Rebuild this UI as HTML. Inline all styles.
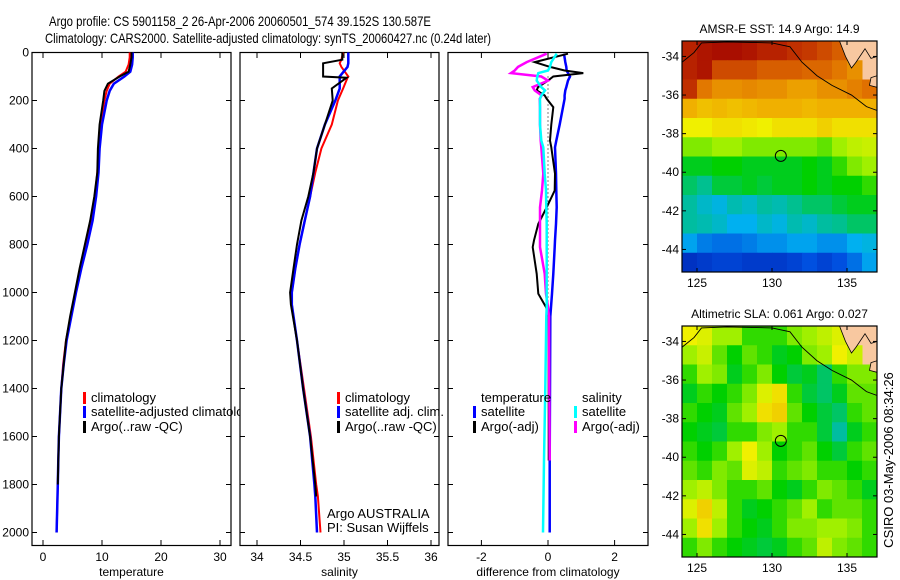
<!DOCTYPE html>
<html><head><meta charset="utf-8"><style>
html,body{margin:0;padding:0;background:#fff;}
svg{display:block;font-family:"Liberation Sans",sans-serif;}
</style></head><body>
<svg id="fig" width="900" height="580" viewBox="0 0 900 580" xmlns="http://www.w3.org/2000/svg">
<defs>
<clipPath id="c1"><rect x="32" y="52" width="208" height="494"/></clipPath>
<clipPath id="c2"><rect x="240" y="52" width="208" height="494"/></clipPath>
<clipPath id="c3"><rect x="448" y="52" width="200" height="494"/></clipPath>
<clipPath id="cm1"><rect x="682" y="41" width="195" height="231"/></clipPath>
<clipPath id="cm2"><rect x="682" y="326" width="195" height="231"/></clipPath>
</defs>
<text x="240" y="26" font-size="14" text-anchor="middle" textLength="382" lengthAdjust="spacingAndGlyphs">Argo profile: CS 5901158_2 26-Apr-2006 20060501_574 39.152S 130.587E</text>
<text x="268" y="43" font-size="14" text-anchor="middle" textLength="446" lengthAdjust="spacingAndGlyphs">Climatology: CARS2000. Satellite-adjusted climatology: synTS_20060427.nc (0.24d later)</text>
<text x="893" y="460" font-size="13" text-anchor="middle" transform="rotate(-90 893 460)">CSIRO 03-May-2006 08:34:26</text>
</svg>
<script>
// ---------- data ----------
const depths = [0,20,50,80,100,130,160,200,300,400,500,600,700,800,900,1000,1100,1200,1300,1400,1500,1600,1700,1800,1900,2000];
const tempArgo = [15.0,15.0,14.8,14.5,13.0,11.0,10.4,10.2,9.6,9.3,9.2,8.7,8.0,7.1,6.2,5.4,4.6,3.9,3.5,3.1,2.9,2.7,2.6,2.5,null,null];
const tempClim = [14.7,14.7,14.5,14.0,12.8,11.3,10.8,10.4,9.8,9.4,9.2,8.8,8.2,7.3,6.3,5.5,4.7,3.9,3.4,3.1,2.9,2.7,2.6,2.5,2.4,2.3];
const tempSat = [15.2,15.2,15.1,14.8,13.8,12.0,11.3,10.8,10.0,9.6,9.4,9.0,8.4,7.5,6.5,5.6,4.8,4.0,3.5,3.1,2.9,2.7,2.6,2.5,2.4,2.3];
const salDepths = [0,30,45,60,100,105,150,200,300,400,500,600,700,800,900,1000,1050,1200,1400,1600,1800,1850,2000];
const salArgo = [34.98,34.98,34.76,34.76,34.76,35.03,34.86,34.87,34.78,34.69,34.65,34.59,34.51,34.46,34.42,34.38,34.39,34.46,34.53,34.61,34.67,34.68,null];
const salClim = [34.99,34.97,34.95,34.97,35.05,35.04,34.99,34.93,34.86,34.74,34.67,34.61,34.55,34.49,34.44,34.40,34.40,34.46,34.54,34.62,34.68,34.70,34.73];
const salSat = [35.05,35.05,35.05,35.04,34.95,34.95,34.95,34.90,34.78,34.69,34.65,34.61,34.55,34.49,34.44,34.40,34.40,34.46,34.53,34.61,34.66,34.67,34.69];
const diffDepths = [5,40,60,75,86,100,117,144,158,179,193,228,300,367,395,505,575,645,714,783,811,922,1005,1061,1100,1400,1700,2000];
const dTempSat = [0.48,0.52,0.55,0.56,0.6,0.66,0.6,0.55,0.52,0.5,0.5,0.45,0.35,0.25,0.21,0.24,0.25,0.26,0.24,0.21,0.2,0.16,0.12,0.09,0.07,0.06,0.05,0.05];
const dTempArgo = [0.6,-0.4,0.06,0.5,1.06,0.16,0.0,-0.3,-0.34,-0.1,-0.04,0.16,0.1,0.06,0.1,0.21,0.2,-0.04,-0.29,-0.42,-0.46,-0.34,-0.29,-0.06,0.02,0.02,0.02,null];
const dSalSat = [0.26,0.1,0.06,0.0,-0.29,-0.32,-0.34,-0.2,-0.09,-0.2,-0.24,-0.24,-0.24,-0.2,-0.14,-0.1,-0.06,-0.05,-0.04,-0.04,-0.04,-0.04,-0.04,-0.04,-0.05,-0.08,-0.12,-0.15];
const dSalArgo = [-0.04,-0.64,-0.9,-1.0,-1.11,-0.2,0.0,-0.46,-0.4,-0.19,-0.25,-0.24,-0.24,-0.22,-0.2,-0.14,-0.18,-0.24,-0.24,-0.24,-0.24,-0.1,-0.06,0.0,0.03,0.04,0.05,null];
const depthTicks = [0,200,400,600,800,1000,1200,1400,1600,1800,2000];
const tempTicks = [0,10,20,30];
const salTicks = [34,34.5,35,35.5,36];
const diffTicks = [-2,0,2];
const lonTicks = [125,130,135];
const latTicks = [-34,-36,-38,-40,-42,-44];
const sstGrid = [
[.95,.97,.98,.98,.97,.95,.95,.93,.92,.90,.88,null,null],
[.95,.97,.90,.90,.90,.88,.88,.88,.87,.87,.85,.82,null],
[.93,.85,.82,.82,.83,.82,.82,.80,.80,.82,.82,.84,.86],
[.78,.76,.77,.76,.77,.78,.78,.78,.77,.78,.78,.78,.78],
[.70,.70,.72,.72,.71,.70,.72,.72,.72,.74,.72,.72,.72],
[.60,.60,.62,.62,.60,.60,.60,.60,.60,.58,.62,.65,.66],
[.50,.50,.52,.52,.50,.50,.50,.50,.52,.50,.55,.60,.62],
[.45,.42,.48,.48,.50,.48,.50,.50,.52,.50,.52,.52,.55],
[.40,.35,.32,.38,.35,.40,.38,.42,.45,.45,.48,.50,.50],
[.40,.38,.35,.30,.30,.35,.32,.38,.35,.40,.42,.45,.45],
[.28,.22,.20,.20,.22,.25,.25,.28,.28,.25,.25,.30,.32],
[.08,.10,.12,.12,.10,.10,.10,.12,.15,.12,.15,.20,.28]];
const slaGrid = [
[.70,.68,.62,.62,.55,.55,.55,.60,.62,.65,.68,null,null],
[.62,.66,.58,.52,.58,.55,.50,.52,.60,.62,.70,.66,null],
[.55,.62,.60,.50,.55,.60,.52,.48,.50,.45,.55,.60,.60],
[.50,.55,.52,.55,.60,.68,.72,.55,.48,.45,.50,.58,.58],
[.55,.52,.50,.58,.62,.72,.74,.58,.52,.48,.45,.55,.58],
[.52,.50,.48,.55,.55,.60,.62,.55,.55,.48,.40,.50,.55],
[.55,.52,.55,.62,.70,.62,.52,.55,.58,.52,.48,.55,.58],
[.58,.55,.60,.58,.68,.65,.55,.58,.60,.55,.55,.52,.55],
[.62,.65,.60,.55,.55,.58,.52,.50,.55,.60,.58,.55,.50],
[.68,.74,.65,.55,.50,.52,.55,.58,.62,.55,.58,.58,.55],
[.62,.72,.62,.55,.52,.50,.55,.60,.60,.62,.62,.60,.55],
[.55,.60,.55,.52,.50,.48,.50,.55,.58,.65,.60,.58,.55]];
const argoLon = 130.587, argoLat = -39.152;

// ---------- helpers ----------
const NS='http://www.w3.org/2000/svg';
const svg=document.getElementById('fig');
function mk(tag,attrs,parent){const e=document.createElementNS(NS,tag);for(const k in attrs)e.setAttribute(k,attrs[k]);(parent||svg).appendChild(e);return e;}
const yD = d => 52.5 + d*0.24;
const xT = v => 43 + v*5.9;
const xS = v => 257 + (v-34)*87;
const xDf = v => 548 + v*33.3;

function series(xs, ys, xf, color, w, name, clip, dash){
  let pts=[];
  for(let i=0;i<xs.length;i++){ if(xs[i]===null) continue; pts.push(xf(xs[i]).toFixed(1)+','+yD(ys[i]).toFixed(1)); }
  const p=mk('polyline',{points:pts.join(' '),fill:'none',stroke:color,'stroke-width':w,'clip-path':'url(#'+clip+')'});
  if(dash) p.setAttribute('stroke-dasharray',dash);
  
  
}
function panel(x0,x1,xticks,xf,xlabel,name,fmt,showDepth){
  const g=mk('g',{});
  
  
  mk('rect',{x:x0,y:52.5,width:x1-x0,height:493,fill:'none',stroke:'#000','stroke-width':1.2},g);
  xticks.forEach(t=>{const x=xf(t);
    mk('line',{x1:x,x2:x,y1:545.5,y2:540,stroke:'#000'},g);
    mk('line',{x1:x,x2:x,y1:52.5,y2:58,stroke:'#000'},g);
    const tx=mk('text',{x:x,y:561,'font-size':12,'text-anchor':'middle'},g);tx.textContent=fmt(t);
    
    
  });
  depthTicks.forEach(d=>{const y=yD(d);
    mk('line',{x1:x0,x2:x0+5,y1:y,y2:y,stroke:'#000'},g);
    mk('line',{x1:x1,x2:x1-5,y1:y,y2:y,stroke:'#000'},g);
    if(showDepth){const tx=mk('text',{x:x0-3,y:y+4,'font-size':12,'text-anchor':'end'},g);tx.textContent=d;
      
      }
  });
  const lb=mk('text',{x:(x0+x1)/2,y:576,'font-size':12,'text-anchor':'middle'},g);lb.textContent=xlabel;
  
  
}
function legendItem(x,y,color,text,clip){
  if(color) mk('rect',{x:x,y:y-10,width:3,height:12,fill:color});
  const t=mk('text',{x:x+8,y:y,'font-size':13});t.textContent=text;
  if(clip) t.setAttribute('clip-path','url(#'+clip+')');
  
  
}

// ---------- panels ----------
panel(32,231,tempTicks,xT,'temperature','temperature-panel',t=>t,true);
panel(240,439,salTicks,xS,'salinity','salinity-panel',t=>t,false);
panel(448,648,diffTicks,xDf,'difference from climatology','difference-panel',t=>t,false);

series(tempClim,depths,xT,'#f00',2,'temp-climatology-line','c1');
series(tempSat,depths,xT,'#00f',2.5,'temp-satellite-line','c1');
series(tempArgo,depths,xT,'#000',2,'temp-argo-line','c1');
series(salClim,salDepths,xS,'#f00',2,'sal-climatology-line','c2');
series(salSat,salDepths,xS,'#00f',2.5,'sal-satellite-line','c2');
series(salArgo,salDepths,xS,'#000',2,'sal-argo-line','c2');
// zero dotted line
const zl=mk('line',{x1:xDf(0),x2:xDf(0),y1:yD(100),y2:yD(1050),stroke:'#000','stroke-dasharray':'1,3'});


series(dTempSat,diffDepths,xDf,'#00f',2.5,'diff-temp-satellite-line','c3');
series(dTempArgo,diffDepths,xDf,'#000',2,'diff-temp-argo-line','c3');
series(dSalArgo,diffDepths,xDf,'#f0f',2.5,'diff-sal-argo-line','c3');
series(dSalSat,diffDepths,xDf,'#0ff',2.5,'diff-sal-satellite-line','c3');

legendItem(83,402,'#f00','climatology');
legendItem(83,416,'#00f','satellite-adjusted climatology','c1');
legendItem(83,431,'#000','Argo(..raw -QC)');
legendItem(337,402,'#f00','climatology');
legendItem(337,416,'#00f','satellite adj. clim.');
legendItem(337,431,'#000','Argo(..raw -QC)');
legendItem(319,518,null,'Argo AUSTRALIA');
legendItem(319,532,null,'PI: Susan Wijffels');
legendItem(473,402,null,'temperature');
legendItem(473,416,'#00f','satellite');
legendItem(473,431,'#000','Argo(-adj)');
legendItem(574,402,null,'salinity');
legendItem(574,416,'#0ff','satellite');
legendItem(574,431,'#f0f','Argo(-adj)');

// ---------- maps ----------
const stops=[[0,[0,16,160]],[0.15,[0,80,224]],[0.3,[0,176,240]],[0.42,[0,192,144]],[0.52,[0,208,0]],[0.62,[160,240,0]],[0.7,[240,240,0]],[0.78,[240,176,0]],[0.86,[224,112,0]],[0.93,[192,48,0]],[1,[160,0,0]]];
function cmap(v){for(let i=1;i<stops.length;i++){if(v<=stops[i][0]){const a=stops[i-1],b=stops[i],t=(v-a[0])/(b[0]-a[0]);const c=a[1].map((q,k)=>Math.round(q+(b[1][k]-q)*t));return 'rgb('+c+')';}}return 'rgb(160,0,0)';}
function map(grid,top,title,name,clip){
  const g=mk('g',{});
  
  
  const L=682,R=877,B=top+231;
  const xL=lon=>L+(lon-124)*15, yL=lat=>top+(-33.2-lat)*19.3;
  const nr=grid.length,nc=grid[0].length,cw=(R-L)/nc,ch=(B-top)/nr;
  mk('rect',{x:L,y:top,width:R-L,height:B-top,fill:'#f8c8a0'},g);
  grid.forEach((row,r)=>row.forEach((v,c)=>{ if(v===null) return;
    const cell=mk('rect',{x:L+c*cw,y:top+r*ch,width:cw+0.5,height:ch+0.5,fill:cmap(v)},g);
    
    
  }));
  // land
  mk('polygon',{points:[[134.5,-33.2],[134.9,-34.0],[135.3,-34.6],[135.6,-34.3],[136.2,-33.6],[136.6,-34.1],[137,-34.0],[137,-33.2]].map(p=>xL(p[0])+','+yL(p[1])).join(' '),fill:'#f8c8a0',stroke:'#000','stroke-width':0.8,'clip-path':'url(#'+clip+')'},g);
  mk('polygon',{points:[[136.6,-35.1],[137,-35.0],[137,-35.6],[136.5,-35.5]].map(p=>xL(p[0])+','+yL(p[1])).join(' '),fill:'#f8c8a0',stroke:'#000','stroke-width':0.8},g);
  mk('polyline',{points:[[124,-34.3],[124.8,-33.8],[125.3,-33.3],[127,-33.25],[130,-33.3],[131.2,-33.5],[132,-34.3],[133,-35.0],[134,-35.5],[135.3,-36.0],[136.3,-36.6],[137,-36.8]].map(p=>xL(p[0])+','+yL(p[1])).join(' '),fill:'none',stroke:'#000','stroke-width':0.9,'clip-path':'url(#'+clip+')'},g);
  const ci=mk('circle',{cx:xL(argoLon),cy:yL(argoLat),r:5.5,fill:'none',stroke:'#000','stroke-width':1},g);
  
  
  mk('rect',{x:L,y:top,width:R-L,height:B-top,fill:'none',stroke:'#000','stroke-width':1.2},g);
  lonTicks.forEach(t=>{const x=xL(t);mk('line',{x1:x,x2:x,y1:B,y2:B-4,stroke:'#000'},g);mk('line',{x1:x,x2:x,y1:top,y2:top+4,stroke:'#000'},g);
    const tx=mk('text',{x:x,y:B+15,'font-size':12,'text-anchor':'middle'},g);tx.textContent=t;
    
    });
  latTicks.forEach(t=>{const y=yL(t);mk('line',{x1:L,x2:L+4,y1:y,y2:y,stroke:'#000'},g);mk('line',{x1:R,x2:R-4,y1:y,y2:y,stroke:'#000'},g);
    const tx=mk('text',{x:L-3,y:y+4,'font-size':12,'text-anchor':'end'},g);tx.textContent=t;
    
    });
  const tt=mk('text',{x:(L+R)/2,y:top-8,'font-size':12,'text-anchor':'middle'},g);tt.textContent=title;
  
  
}
map(sstGrid,41,'AMSR-E SST: 14.9 Argo: 14.9','sst-map','cm1');
map(slaGrid,326,'Altimetric SLA: 0.061 Argo: 0.027','sla-map','cm2');
</script>
</body></html>
